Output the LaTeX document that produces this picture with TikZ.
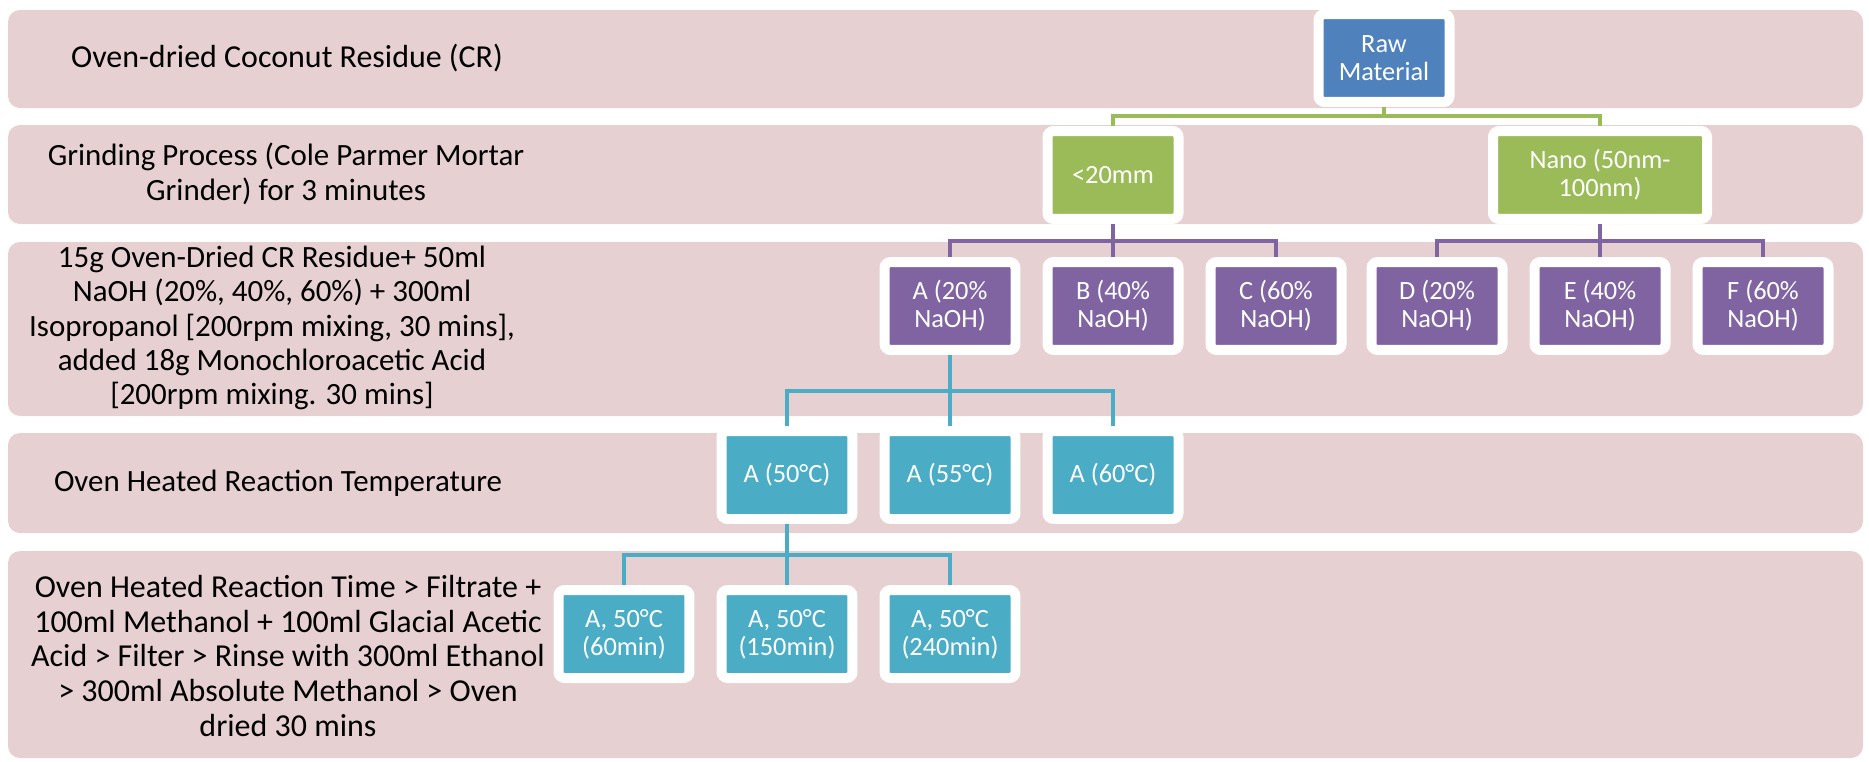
\documentclass[tikz,border=0pt]{standalone}
\usepackage{fontspec}
\setmainfont{Carlito}
\usetikzlibrary{positioning,backgrounds,calc}

\definecolor{bandpink}{RGB}{231,208,209}
\definecolor{rawblue}{RGB}{79,129,189}
\definecolor{sizegreen}{RGB}{155,187,89}
\definecolor{naohpurple}{RGB}{128,100,162}
\definecolor{heatteal}{RGB}{75,172,198}

\begin{document}
\begin{tikzpicture}[x=0.02cm, y=-0.02cm]
        % One unit is one pixel of the original, y runs downwards
        \useasboundingbox (0,0) rectangle (1869,761);

        \tikzset{
            band/.style={fill=bandpink, rounded corners=0.24cm},
            bandtext/.style={align=center, text=black,
                font=\fontsize{18.2}{19.8}\selectfont},
            smalltext/.style={font=\fontsize{17.6}{19.6}\selectfont},
            stage/.style={rectangle, rounded corners=0.12cm, draw=white,
                line width=0.2cm, minimum width=2.62cm, minimum height=1.76cm,
                inner sep=0pt, align=center, text=white,
                font=\fontsize{15}{16}\selectfont},
            link/.style={line width=0.08cm},
        }

        % Heights of the horizontal bus lines
        \coordinate (gbus) at (0,116);
        \coordinate (pbus) at (0,241);
        \coordinate (tbus) at (0,391);
        \coordinate (bbus) at (0,555);

        % Step descriptions on the left
        \node[bandtext] (lblraw) at (287,58) {Oven-dried Coconut Residue (CR)};
        \node[bandtext, smalltext] (lblgrind) at (286,174) {Grinding Process (Cole Parmer Mortar\\Grinder) for 3 minutes};
        \node[bandtext, smalltext] (lblnaoh) at (272,328) {15g Oven-Dried CR Residue+ 50ml\\NaOH (20\%, 40\%, 60\%) + 300ml\\Isopropanol {[}200rpm mixing, 30 mins{]},\\added 18g Monochloroacetic Acid\\{[}200rpm mixing. 30 mins{]}};
        \node[bandtext, smalltext] (lbltemp) at (278,483) {Oven Heated Reaction Temperature};
        \node[bandtext] (lbltime) at (288,656) {Oven Heated Reaction Time > Filtrate +\\100ml Methanol + 100ml Glacial Acetic\\Acid > Filter > Rinse with 300ml Ethanol\\> 300ml Absolute Methanol > Oven\\dried 30 mins};

        % Raw material and particle size
        \node[stage, fill=rawblue] (raw) at (1384,58) {Raw\\Material};
        \node[stage, fill=sizegreen] (fine) at (1113,175) {<20mm};
        \node[stage, fill=sizegreen, minimum width=4.28cm] (nano) at (1600,175) {Nano (50nm-\\100nm)};

        % NaOH concentrations
        \node[stage, fill=naohpurple] (naoha) at (950,306) {A (20\%\\NaOH)};
        \node[stage, fill=naohpurple] (naohb) at (1113,306) {B (40\%\\NaOH)};
        \node[stage, fill=naohpurple] (naohc) at (1276,306) {C (60\%\\NaOH)};
        \node[stage, fill=naohpurple] (naohd) at (1437,306) {D (20\%\\NaOH)};
        \node[stage, fill=naohpurple] (naohe) at (1600,306) {E (40\%\\NaOH)};
        \node[stage, fill=naohpurple] (naohf) at (1763,306) {F (60\%\\NaOH)};

        % Reaction temperatures
        \node[stage, fill=heatteal] (temp50) at (787,475) {A (50°C)};
        \node[stage, fill=heatteal] (temp55) at (950,475) {A (55°C)};
        \node[stage, fill=heatteal] (temp60) at (1113,475) {A (60°C)};

        % Reaction times
        \node[stage, fill=heatteal] (time60) at (624,634) {A, 50°C\\(60min)};
        \node[stage, fill=heatteal] (time150) at (787,634) {A, 50°C\\(150min)};
        \node[stage, fill=heatteal] (time240) at (950,634) {A, 50°C\\(240min)};

        \begin{pgfonlayer}{background}
            % Bands
            \fill[band] (8,10) rectangle (1863,108);
            \fill[band] (8,125) rectangle (1863,224);
            \fill[band] (8,242) rectangle (1863,416);
            \fill[band] (8,433) rectangle (1863,533);
            \fill[band] (8,551) rectangle (1863,758);

            % Tree connectors
            \begin{scope}[link, sizegreen]
                \draw (raw.south) -- (raw.south |- gbus) -| (fine.north);
                \draw (raw.south |- gbus) -| (nano.north);
            \end{scope}
            \begin{scope}[link, naohpurple]
                \draw (fine.south) -- (naohb.north);
                \draw (fine.south |- pbus) -| (naoha.north);
                \draw (fine.south |- pbus) -| (naohc.north);
                \draw (nano.south) -- (naohe.north);
                \draw (nano.south |- pbus) -| (naohd.north);
                \draw (nano.south |- pbus) -| (naohf.north);
            \end{scope}
            \begin{scope}[link, heatteal]
                \draw (naoha.south) -- (temp55.north);
                \draw (naoha.south |- tbus) -| (temp50.north);
                \draw (naoha.south |- tbus) -| (temp60.north);
                \draw (temp50.south) -- (time150.north);
                \draw (temp50.south |- bbus) -| (time60.north);
                \draw (temp50.south |- bbus) -| (time240.north);
            \end{scope}
        \end{pgfonlayer}
\end{tikzpicture}
\end{document}
